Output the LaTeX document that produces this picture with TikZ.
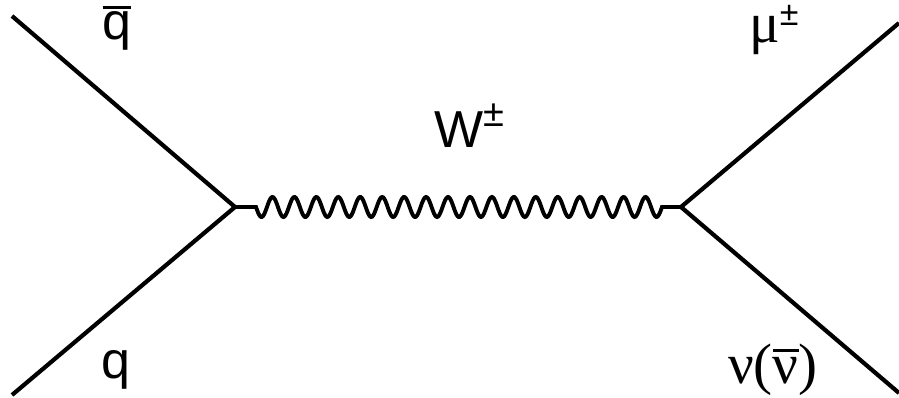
\documentclass[tikz,border=0pt]{standalone}
\usepackage{fontspec}
\setmainfont{Liberation Sans}
\newfontfamily\serifface{Liberation Serif}
\newcommand\obar[3][3pt]{\vbox{\hrule height #1\kern #2\hbox{#3}}}
\newcommand\pmsup[2][20pt]{\raisebox{#1}{\normalfont\fontsize{#2}{#2}\selectfont ±}}
\begin{document}
\begin{tikzpicture}[x=1pt,y=-1pt,
  fermion/.style={line width=4.2pt},
  boson/.style={line width=3.9pt},
  lab/.style={inner sep=0pt, font=\fontsize{52}{52}\selectfont},
  slab/.style={inner sep=0pt, font=\serifface\fontsize{57}{57}\selectfont}]
\useasboundingbox (0,0) rectangle (899,398);
\fill[white] (0,0) rectangle (899,398);
\coordinate (a) at (12,16);
\coordinate (b) at (12,395);
\coordinate (v1) at (235,207);
\coordinate (v2) at (681,207);
\coordinate (c) at (899,23);
\coordinate (d) at (899,393);
\coordinate (w1) at (256,207);
\coordinate (w2) at (662,207);
\draw[fermion] (a) -- (v1) -- (b);
\draw[fermion] (c) -- (v2) -- (d);
\draw[boson] (v1) -- (w1) -- plot[domain=0:406, samples=400] ({256+\x},{207+10*sin(\x*16.4039)}) -- (w2) -- (v2);
\node[lab, anchor=base] (qbar) at (117,40) {\obar[2.6pt]{3.5pt}{q}};
\node[lab, anchor=base] (q) at (116,378) {q};
\node[lab, anchor=base west] (W) at (434,148) {W\pmsup[21pt]{38}};
\node[slab, anchor=base west] (mu) at (749,43) {μ\pmsup[17pt]{34}};
\node[slab, anchor=base west] (nu) at (728,383) {ν(\obar[3pt]{5pt}{ν})};
\end{tikzpicture}
\end{document}
